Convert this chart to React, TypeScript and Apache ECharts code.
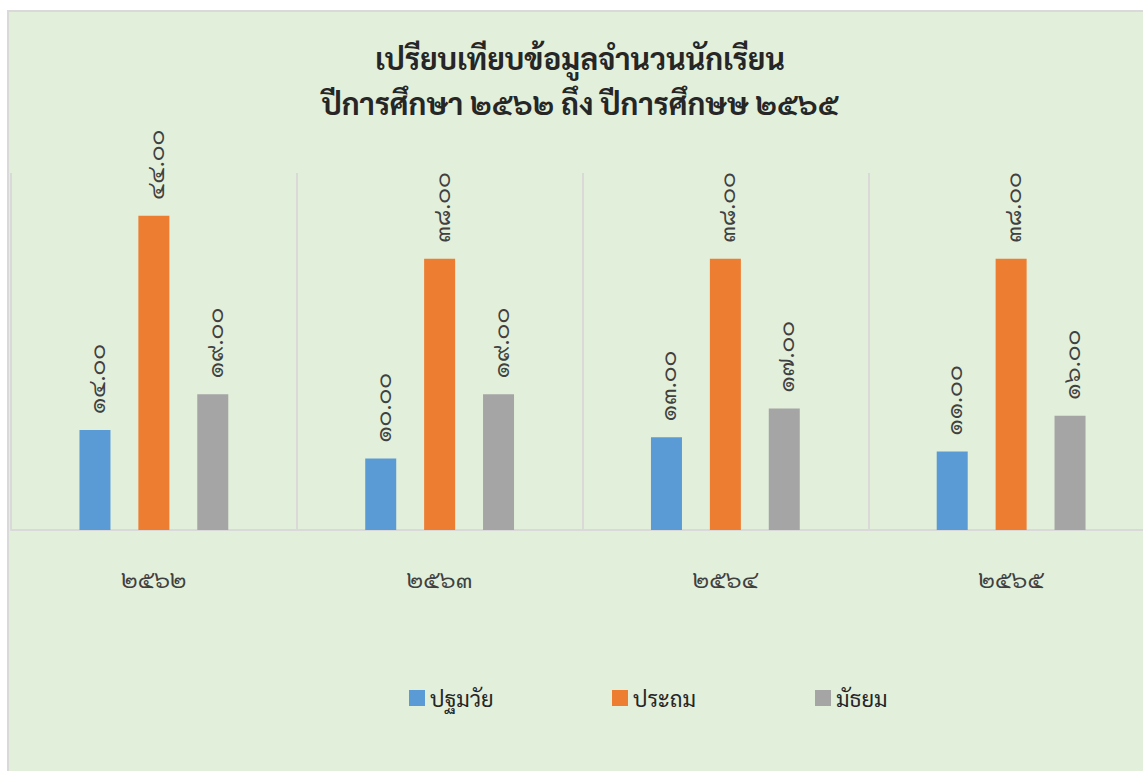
import React, { useEffect, useRef } from "react";
import * as echarts from "echarts";

const categories = ["๒๕๖๒", "๒๕๖๓", "๒๕๖๔", "๒๕๖๕"];
const seriesNames = ["ปฐมวัย", "ประถม", "มัธยม"];
const preschool = [14, 10, 13, 11];
const primary = [44, 38, 38, 38];
const secondary = [19, 19, 17, 16];
const titleLine1 = "เปรียบเทียบข้อมูลจำนวนนักเรียน";
const titleLine2 = "ปีการศึกษา ๒๕๖๒ ถึง ปีการศึกษษ ๒๕๖๕";

const colors = ["#5b9bd5", "#ed7d31", "#a5a5a5"];
const FONT =
  "'TH Sarabun New', 'Sarabun', 'Noto Sans Thai Looped', 'Noto Serif Thai', 'Garuda', 'Loma', 'Norasi', 'Kinnari', 'Tlwg Typo', 'Noto Sans Thai', sans-serif";
const thaiDigits = ["๐", "๑", "๒", "๓", "๔", "๕", "๖", "๗", "๘", "๙"];
const toThai = (s: string) => s.replace(/[0-9]/g, (d) => thaiDigits[Number(d)]);
const legendLefts = [404, 607, 810];

export default function App() {
  const ref = useRef<HTMLDivElement>(null);
  useEffect(() => {
    if (!ref.current) return;
    const chart = echarts.init(ref.current, undefined, { renderer: "svg" });
    const label = {
      show: true,
      position: "top",
      rotate: 90,
      align: "left",
      verticalAlign: "middle",
      distance: 16,
      color: "#404040",
      fontSize: 24,
      fontFamily: FONT,
      formatter: (p: any) => toThai(Number(p.value).toFixed(2)),
    };
    const mk = (name: string, data: number[], i: number) => ({
      name,
      type: "bar",
      data,
      barWidth: 31,
      barGap: "90%",
      itemStyle: { color: colors[i] },
      label,
    });
    chart.setOption({
      animation: false,
      backgroundColor: "#ffffff",
      graphic: [
        {
          type: "rect",
          z: -10,
          shape: { x: 8, y: 11, width: 1200, height: 800 },
          style: { fill: "#e2efda", stroke: "#d9d9d9", lineWidth: 2 },
        },
        {
          type: "text",
          x: 580,
          y: 42,
          style: {
            text: titleLine1,
            textAlign: "center",
            fill: "#262626",
            font: `bold 30px ${FONT}`,
          },
        },
        {
          type: "text",
          x: 580,
          y: 87,
          style: {
            text: titleLine2,
            textAlign: "center",
            fill: "#262626",
            font: `bold 30px ${FONT}`,
          },
        },
      ],
      grid: { left: 11, right: 11, top: 173, bottom: 241 },
      legend: seriesNames.map((n, i) => ({
        left: legendLefts[i],
        top: 682,
        itemWidth: 16,
        itemHeight: 16,
        icon: "rect",
        data: [n],
        textStyle: { fontSize: 22, color: "#262626", fontFamily: FONT },
      })),
      xAxis: {
        type: "category",
        data: categories,
        axisLine: { lineStyle: { color: "#d9d9d9", width: 2 } },
        axisTick: { show: false },
        splitLine: { show: true, lineStyle: { color: "#d9d9d9", width: 2 } },
        axisLabel: { margin: 36, fontSize: 24, color: "#404040", fontFamily: FONT },
      },
      yAxis: {
        type: "value",
        min: 0,
        max: 50,
        show: false,
      },
      series: [
        mk(seriesNames[0], preschool, 0),
        mk(seriesNames[1], primary, 1),
        mk(seriesNames[2], secondary, 2),
      ],
    });
    return () => chart.dispose();
  }, []);
  return (
    <div style={{ position: "fixed", left: 0, top: 0, width: 1143, height: 771, overflow: "hidden" }}>
      <div ref={ref} style={{ width: 1165, height: 771 }} />
    </div>
  );
}
